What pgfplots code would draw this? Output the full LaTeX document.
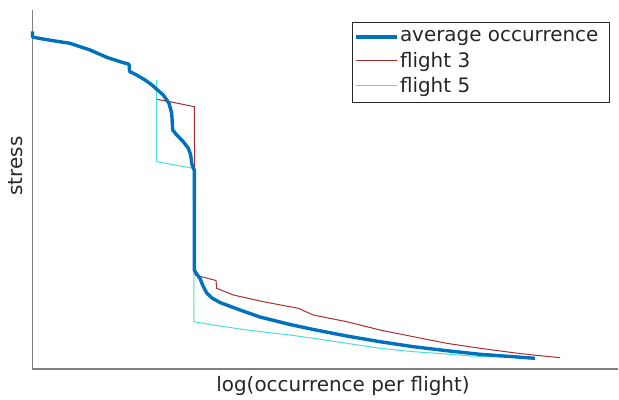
\documentclass[border=0pt]{standalone}
\usepackage{pgfplots}
\pgfplotsset{compat=1.18}
\usepackage{fontspec}
\setmainfont{DejaVu Sans}
\definecolor{avgblue}{RGB}{0,114,189}
\definecolor{fltred}{RGB}{170,45,45}
\definecolor{fltcyan}{RGB}{70,222,222}
\definecolor{axgray}{RGB}{128,128,128}
\definecolor{txt}{RGB}{38,38,38}
\begin{document}
\begin{tikzpicture}
\begin{axis}[
  at={(0,0)}, anchor=south west,
  width=585.5bp, height=359bp, scale only axis,
  xmin=32.5, xmax=618, ymin=0, ymax=359,
  axis x line=bottom, axis y line=left,
  axis line style={-, draw=axgray, line width=1.2bp},
  xtick=\empty, ytick=\empty,
  clip=false,
  xlabel={log(occurrence per flight)},
  ylabel={stress},
  label style={font=\fontsize{20}{24}\selectfont, text=txt},
  xlabel style={at={(axis cs:343,-22)}, anchor=base},
  ylabel style={at={(axis cs:23,203)}, anchor=base},
  legend style={at={(axis cs:352,347)}, anchor=north west,
    draw=txt, line width=0.8bp, fill=white,
    font=\fontsize{20}{24}\selectfont, text=txt,
    inner xsep=2bp, inner ysep=7bp, row sep=6.5bp,
    nodes={inner sep=1.2bp}},
  legend cell align=left,
  legend image code/.code={\draw[#1] (0bp,0bp) -- (41bp,0bp);},
]
\addlegendimage{avgblue, line width=3.4bp}
\addlegendentry{average occurrence\rule{8bp}{0pt}}
\addlegendimage{fltred, line width=1bp}
\addlegendentry{flight 3}
\addlegendimage{fltcyan, line width=1bp}
\addlegendentry{flight 5}

% flight 3
\addplot[fltred, line width=1bp, forget plot] coordinates {
(156.7,269.7)(170,267.3)(194.3,262.3)(194.6,201)(195,169)(195,94)(216,88.5)(216.7,80.7)(233.3,74)(263.3,67.3)(298.3,60.7)(313.3,54)(346.7,47.3)(380,39)(413.3,32.3)(446.7,25.7)(480,20.7)(513.3,16.3)(533.3,14)(560,11.3)
};
% flight 5
\addplot[fltcyan, line width=1bp, forget plot] coordinates {
(156.7,289)(156.7,207.3)(193.3,200.7)(193.8,119)(194,47.3)(213.3,44)(246.7,39)(290,34)(313.3,30.7)(346.7,25.7)(380,20.7)(413.3,17.3)(446.7,15)(470,13)(513.3,11.7)(530,10.7)
};
% average occurrence
\addplot[avgblue, line width=3.4bp, line join=round, forget plot] coordinates {
(32.5,337.5)(32.5,332)(40,330.5)(53,328.3)(70,325.7)(90,319)(106.7,311.7)(120,307.3)(128.3,305)(129.3,304)(129.5,297.5)(136.7,294)(145,289)(152,284)(156.7,279.7)(163.3,274)(169,265.7)(171.7,255.7)(172.7,239)(176.7,234)(183.3,227.3)(188.3,220.7)(190.7,214)(191.7,205.7)(193.3,200.7)(194.3,199)(194.3,99)(196.7,95)(200,90.7)(203,83)(206.7,76)(212,71)(220,66.5)(240,59)(260,52)(290,44.5)(313.3,39.5)(346.7,33)(380,27.3)(413.3,22.3)(446.7,18.3)(480,14.7)(513.3,12.3)(535,10.7)
};
\end{axis}
\pgfresetboundingbox
\useasboundingbox (-32.5bp,-31bp) rectangle (586.5bp,369bp);
\end{tikzpicture}
\end{document}
